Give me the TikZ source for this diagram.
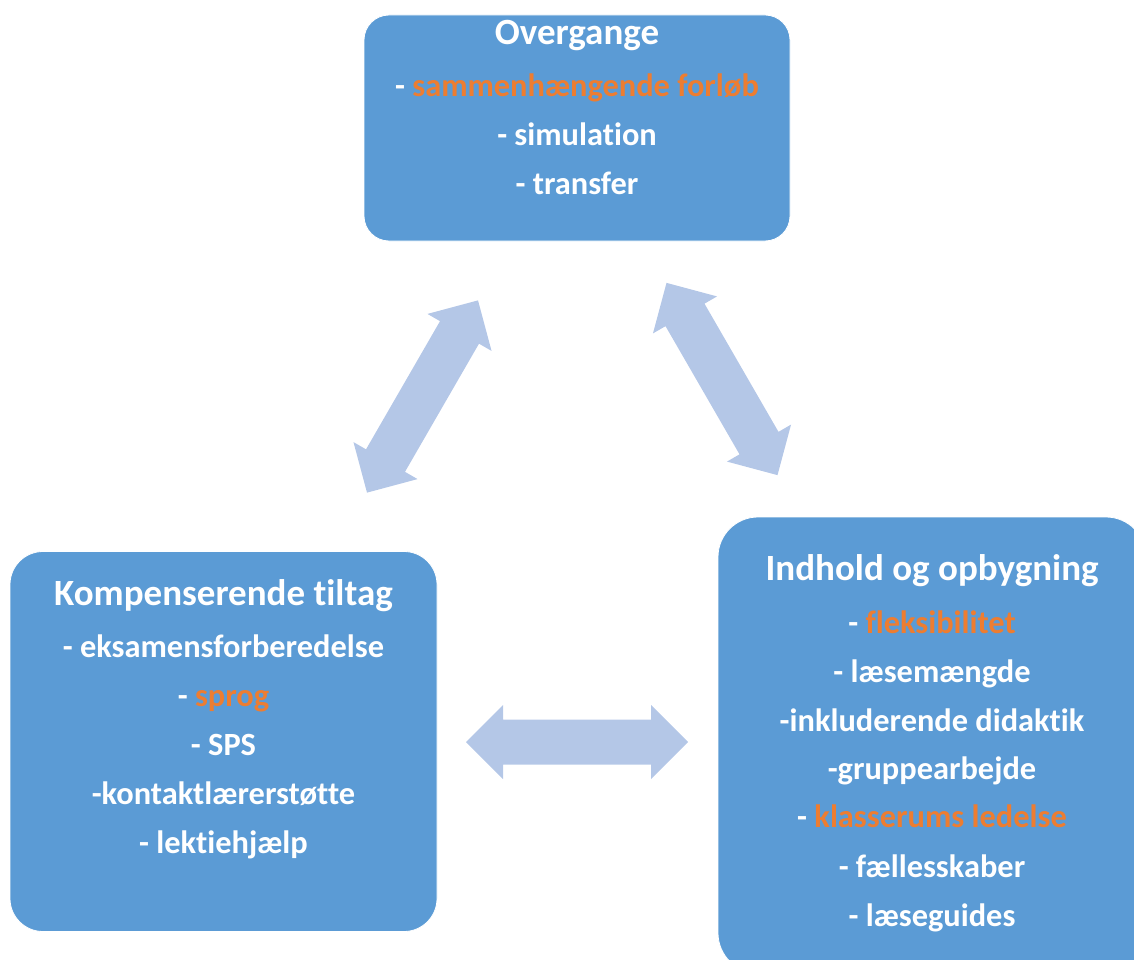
\documentclass[tikz,border=0pt]{standalone}
\usepackage{fontspec}
\setmainfont{Carlito}[Ligatures={NoCommon}]
\definecolor{boxblue}{HTML}{5B9BD5}
\definecolor{hiorange}{HTML}{ED7D31}
\definecolor{arrblue}{HTML}{B4C7E7}
\newcommand{\hl}[1]{\textcolor{hiorange}{#1}}
\tikzset{
  box/.style={draw=white, line width=0.8pt, fill=boxblue, rounded corners=#1, inner sep=0pt},
  ttl/.style={anchor=base, inner sep=0pt, text=white, font=\bfseries\fontsize{37}{44}\selectfont},
  itm/.style={anchor=base, inner sep=0pt, text=white, font=\bfseries\fontsize{32.4}{39}\selectfont},
  dblarr/.pic={\fill[arrblue] (-111,0) -- (-74,37) -- (-74,22.5) -- (74,22.5) -- (74,37) -- (111,0)
     -- (74,-37) -- (74,-22.5) -- (-74,-22.5) -- (-74,-37) -- cycle;}
}
\begin{document}
\begin{tikzpicture}[x=1pt,y=-1pt]
\path[use as bounding box] (0,0) rectangle (1134,960);
\clip (0,0) rectangle (1134,960);
% boxes
\node[box=25pt, minimum width=426pt, minimum height=226pt] (top) at (577,128) {};
\node[box=33pt, minimum width=427pt, minimum height=380pt] (left) at (223.5,741.5) {};
\node[box=40pt, minimum width=428pt, minimum height=456pt] (right) at (932,745) {};
% arrows
\coordinate (aTL) at (422.5,396.5);
\coordinate (aTR) at (722,379);
\coordinate (aLR) at (577,742);
\path (aTL) pic[rotate=60] {dblarr};
\path (aTR) pic[rotate=-60] {dblarr};
\path (aLR) pic {dblarr};
% top text
\node[ttl] (t0) at (577,45) {Overgange};
\node[itm] (t1) at (577,97) {- \hl{sammenhængende forløb}};
\node[itm] (t2) at (577,146) {- simulation};
\node[itm] (t3) at (577,194) {- transfer};
% left text
\node[ttl] (l0) at (223.5,605) {Kompenserende tiltag};
\node[itm] (l1) at (223.5,657) {- eksamensforberedelse};
\node[itm] (l2) at (223.5,706) {- \hl{sprog}};
\node[itm] (l3) at (223.5,755) {- SPS};
\node[itm] (l4) at (223.5,804) {-kontaktlærerstøtte};
\node[itm] (l5) at (223.5,853) {- lektiehjælp};
% right text
\node[ttl] (r0) at (932,580) {Indhold og opbygning};
\node[itm] (r1) at (932,633) {- \hl{fleksibilitet}};
\node[itm] (r2) at (932,682) {- læsemængde};
\node[itm] (r3) at (932,731) {-inkluderende didaktik};
\node[itm] (r4) at (932,779) {-gruppearbejde};
\node[itm] (r5) at (932,827) {- \hl{klasserums ledelse}};
\node[itm] (r6) at (932,877) {- fællesskaber};
\node[itm] (r7) at (932,926) {- læseguides};
\end{tikzpicture}
\end{document}
